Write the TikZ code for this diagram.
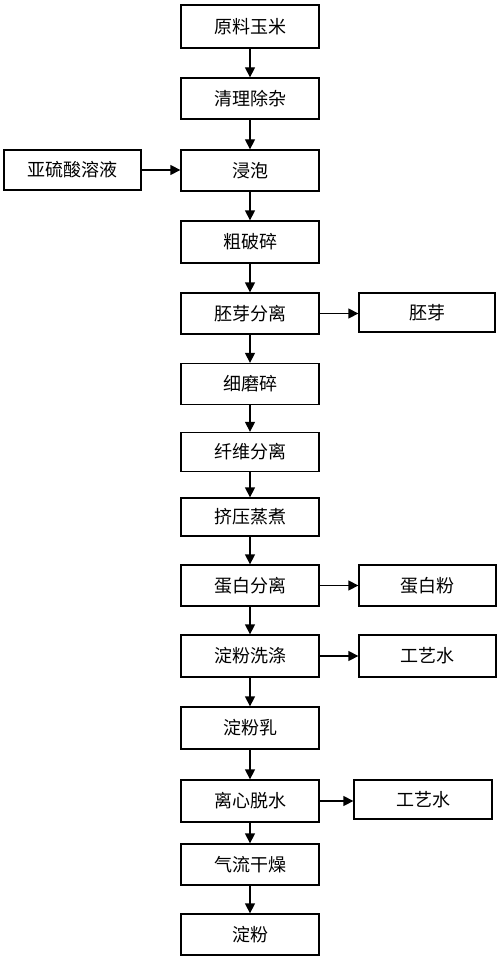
\documentclass[tikz,border=0pt]{standalone}
\usepackage{fontspec}
\newfontfamily\cjk{Noto Sans CJK SC}
\usetikzlibrary{arrows.meta}

\begin{document}
\begin{tikzpicture}[x=1pt,y=-1pt]
	\tikzstyle{every node}+=[inner sep=0pt]
	\tikzstyle{box}=[draw=black, line width=1.3pt, minimum width=138pt, minimum height=41pt, font=\cjk\fontsize{18}{18}\selectfont]
	\tikzstyle{arr}=[black, line width=1.3pt, -{Triangle[length=10pt,width=10pt]}]
	\useasboundingbox (0,0) rectangle (500,960);
	\node [box, minimum height=43pt] (yuanliao) at (250,26.5) {原料玉米};
	\node [box] (qingli) at (250,98.5) {清理除杂};
	\node [box] (jinpao) at (250,170.5) {浸泡};
	\node [box, minimum width=137pt, minimum height=40pt] (yaliusuan) at (72.5,170) {亚硫酸溶液};
	\node [box, minimum height=42pt] (cupo) at (250,242) {粗破碎};
	\node [box] (peiyafen) at (250,313.5) {胚芽分离};
	\node [box, minimum width=136pt, minimum height=39pt] (peiya) at (427,312.5) {胚芽};
	\node [box] (ximo) at (250,384) {细磨碎};
	\node [box, minimum height=39pt] (xianwei) at (250,452) {纤维分离};
	\node [box, minimum height=38pt] (jiya) at (250,517) {挤压蒸煮};
	\node [box] (danbaifen) at (250,585.5) {蛋白分离};
	\node [box, minimum width=137pt] (danbai) at (427.5,585.5) {蛋白粉};
	\node [box, minimum height=42pt] (xidi) at (250,656) {淀粉洗涤};
	\node [box, minimum width=137pt, minimum height=42pt] (shuiA) at (427.5,656) {工艺水};
	\node [box, minimum height=42pt] (dianfenru) at (250,728) {淀粉乳};
	\node [box, minimum height=42pt] (lixin) at (250,801) {离心脱水};
	\node [box, minimum height=39pt] (shuiB) at (423,799.5) {工艺水};
	\node [box] (ganzao) at (250,864.5) {气流干燥};
	\node [box] (dianfen) at (250,934.5) {淀粉};
	% main line
	\draw [arr] (yuanliao) -- (qingli);
	\draw [arr] (qingli) -- (jinpao);
	\draw [arr] (jinpao) -- (cupo);
	\draw [arr] (cupo) -- (peiyafen);
	\draw [arr] (peiyafen) -- (ximo);
	\draw [arr] (ximo) -- (xianwei);
	\draw [arr] (xianwei) -- (jiya);
	\draw [arr] (jiya) -- (danbaifen);
	\draw [arr] (danbaifen) -- (xidi);
	\draw [arr] (xidi) -- (dianfenru);
	\draw [arr] (dianfenru) -- (lixin);
	\draw [arr] (lixin) -- (ganzao);
	\draw [arr] (ganzao) -- (dianfen);
	% side lines
	\draw [arr] (yaliusuan.east) -- (yaliusuan.east -| jinpao.west);
	\draw [arr] (peiyafen.east) -- (peiyafen.east -| peiya.west);
	\draw [arr] (danbaifen.east) -- (danbaifen.east -| danbai.west);
	\draw [arr] (xidi.east) -- (xidi.east -| shuiA.west);
	\draw [arr] (lixin.east) -- (lixin.east -| shuiB.west);
\end{tikzpicture}
\end{document}
